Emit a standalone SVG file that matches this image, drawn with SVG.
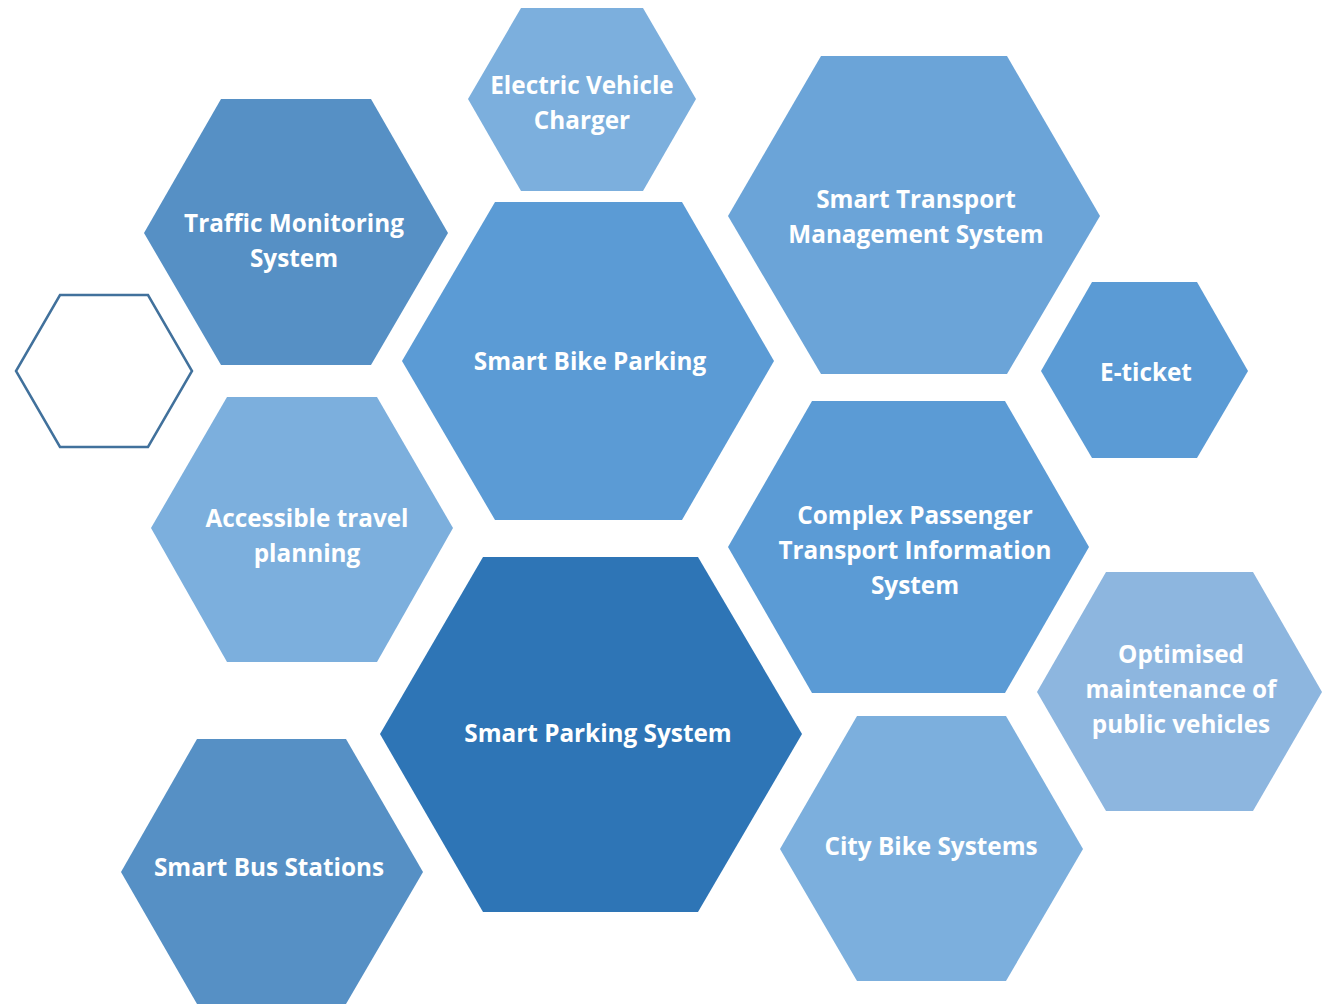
<svg xmlns="http://www.w3.org/2000/svg" width="1326" height="1005" viewBox="0 0 1326 1005">
<style>
  .lbl { font-family: "Open Sans", "Liberation Sans", sans-serif; font-weight: 700; font-size: 24.3px; fill: #FFFFFF; text-anchor: middle; }
  .c1 { fill: #2E75B6; }
  .c2 { fill: #5B9BD5; }
  .c3 { fill: #5690C5; }
  .c4 { fill: #6BA4D8; }
  .c5 { fill: #7CAFDD; }
  .c6 { fill: #8DB6DF; }
  .outline { fill: #FFFFFF; stroke: #41719C; stroke-width: 2.5; }
</style>
<rect width="1326" height="1005" fill="#FFFFFF"/>
<g id="nodes">
  <g id="electric-vehicle-charger">
    <polygon class="c5" points="521,8 643,8 696,99 643,191 521,191 468,99"/>
    <text class="lbl" x="582" y="94">Electric Vehicle</text>
    <text class="lbl" x="582" y="129">Charger</text>
  </g>
  <g id="traffic-monitoring-system">
    <polygon class="c3" points="221,99 371,99 448,233 371,365 221,365 144,233"/>
    <text class="lbl" x="294" y="232">Traffic Monitoring</text>
    <text class="lbl" x="294" y="267">System</text>
  </g>
  <g id="smart-transport-management-system">
    <polygon class="c4" points="821,56 1007,56 1100,216 1007,374 821,374 728,216"/>
    <text class="lbl" x="916" y="208">Smart Transport</text>
    <text class="lbl" x="916" y="243">Management System</text>
  </g>
  <g id="smart-bike-parking">
    <polygon class="c2" points="495,202 682,202 774,361 682,520 495,520 402,361"/>
    <text class="lbl" x="590" y="370">Smart Bike Parking</text>
  </g>
  <g id="empty-hexagon">
    <polygon class="outline" points="60,295 148,295 192,371 148,447 60,447 16,371"/>
  </g>
  <g id="e-ticket">
    <polygon class="c2" points="1092,282 1197,282 1248,371 1197,458 1092,458 1041,371"/>
    <text class="lbl" x="1146" y="381">E-ticket</text>
  </g>
  <g id="accessible-travel-planning">
    <polygon class="c5" points="227,397 377,397 453,528 377,662 227,662 151,528"/>
    <text class="lbl" x="307" y="527">Accessible travel</text>
    <text class="lbl" x="307" y="562">planning</text>
  </g>
  <g id="complex-passenger-transport-information-system">
    <polygon class="c2" points="812,401 1005,401 1089,547 1005,693 812,693 728,547"/>
    <text class="lbl" x="915" y="524">Complex Passenger</text>
    <text class="lbl" x="915" y="559">Transport Information</text>
    <text class="lbl" x="915" y="594">System</text>
  </g>
  <g id="smart-parking-system">
    <polygon class="c1" points="483,557 698,557 802,734 698,912 483,912 380,734"/>
    <text class="lbl" x="598" y="742">Smart Parking System</text>
  </g>
  <g id="optimised-maintenance">
    <polygon class="c6" points="1106,572 1253,572 1322,692 1253,811 1106,811 1037,692"/>
    <text class="lbl" x="1181" y="663">Optimised</text>
    <text class="lbl" x="1181" y="698">maintenance of</text>
    <text class="lbl" x="1181" y="733">public vehicles</text>
  </g>
  <g id="city-bike-systems">
    <polygon class="c5" points="857,716 1006,716 1083,849 1006,981 857,981 780,849"/>
    <text class="lbl" x="931" y="855">City Bike Systems</text>
  </g>
  <g id="smart-bus-stations">
    <polygon class="c3" points="197,739 346,739 423,872 346,1004 197,1004 121,872"/>
    <text class="lbl" x="269" y="876">Smart Bus Stations</text>
  </g>
</g>
<g id="connectors"></g>
</svg>
